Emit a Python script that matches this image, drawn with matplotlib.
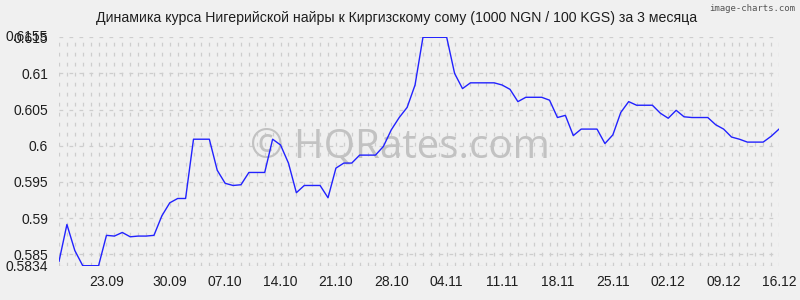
import datetime as dt
import matplotlib
matplotlib.use("Agg")
import matplotlib.pyplot as plt
import matplotlib.transforms as mtransforms

# NGN/KGS rate (1000 NGN / 100 KGS), one value per day from 16.09 to 16.12
start_date = dt.date(2023, 9, 16)
rates = [
    0.5840, 0.5891, 0.5855, 0.5834, 0.5834, 0.5834, 0.5876, 0.5875, 0.5880, 0.5874,
    0.5875, 0.5875, 0.5876, 0.5903, 0.5921, 0.5927, 0.5927, 0.6009, 0.6009, 0.6009,
    0.5966, 0.5948, 0.5945, 0.5946, 0.5963, 0.5963, 0.5963, 0.6009, 0.6001, 0.5976,
    0.5935, 0.5945, 0.5945, 0.5945, 0.5928, 0.5969, 0.5976, 0.5976, 0.5987, 0.5987,
    0.5987, 0.5999, 0.6022, 0.6039, 0.6053, 0.6084, 0.6150, 0.6150, 0.6150, 0.6150,
    0.6100, 0.6079, 0.6087, 0.6087, 0.6087, 0.6087, 0.6084, 0.6078, 0.6061, 0.6067,
    0.6067, 0.6067, 0.6063, 0.6039, 0.6042, 0.6014, 0.6023, 0.6023, 0.6023, 0.6003,
    0.6015, 0.6046, 0.6061, 0.6056, 0.6056, 0.6056, 0.6045, 0.6038, 0.6049, 0.6040,
    0.6039, 0.6039, 0.6039, 0.6029, 0.6023, 0.6012, 0.6009, 0.6005, 0.6005, 0.6005,
    0.6013, 0.6023,
]
dates = [start_date + dt.timedelta(days=i) for i in range(len(rates))]

x_labels = ["23.09", "30.09", "07.10", "14.10", "21.10", "28.10", "04.11",
            "11.11", "18.11", "25.11", "02.12", "09.12", "16.12"]
y_ticks = [0.5834, 0.585, 0.59, 0.595, 0.6, 0.605, 0.61, 0.615]
y_labels = ["0.5834", "0.585", "0.59", "0.595", "0.6", "0.605", "0.61", "0.615"]
y_max_label = "0.6155"

title = "Динамика курса Нигерийской найры к Киргизскому сому (1000 NGN / 100 KGS) за 3 месяца"

plt.rcParams['font.family'] = ['Liberation Sans', 'DejaVu Sans']
bg = "#f0f0f0"
grid_col = "#cdcdcd"
txt_col = "#1e1e1e"

fig = plt.figure(figsize=(8, 3), dpi=100, facecolor=bg)
ax = fig.add_axes([0.07375, 0.1143, 0.9, 0.7614], facecolor=bg)

x = list(range(len(rates)))
ax.plot(x, rates, color="#2222ff", linewidth=1.0, zorder=3)

ax.set_xlim(0, len(rates) - 1)
ax.set_ylim(min(rates), 0.615)

# grid: dashed vertical line every day, dashed horizontal at y ticks
for xi in x:
    ax.axvline(xi, color=grid_col, linewidth=0.9, linestyle=(0, (3, 5)), zorder=1)
for yv in y_ticks:
    ax.axhline(yv, color=grid_col, linewidth=0.9, linestyle=(0, (3, 5)), zorder=1)

# tick positions by date (first label sits a day earlier in the reference)
pos = []
for lab in x_labels:
    d, m = lab.split(".")
    for i, dd in enumerate(dates):
        if dd.day == int(d) and dd.month == int(m):
            pos.append(i)
            break
pos[0] -= 1
ax.set_xticks(pos)
ax.set_xticklabels(x_labels, fontsize=10, color=txt_col)
ax.set_yticks(y_ticks)
ax.set_yticklabels(y_labels, fontsize=10, color=txt_col)
ax.tick_params(axis="both", length=0)
ax.tick_params(axis="x", pad=7)
ax.tick_params(axis="y", pad=8)

# max value label drawn over the 0.615 label, as in the reference
trans = mtransforms.blended_transform_factory(ax.transAxes, ax.transData)
ax.text(-8 / 72 * 100 / 720, 0.615, y_max_label, transform=trans, ha="right",
        va="center", fontsize=10, color=txt_col)

for s in ax.spines.values():
    s.set_visible(False)

fig.text(0.496, 0.94, title, ha="center", va="center", fontsize=10.2, color=txt_col)
fig.text(0.994, 0.972, "image-charts.com", ha="right", va="center", fontsize=6.5,
         color="#555555", family=["DejaVu Sans Mono", "DejaVu Sans"])

ax.text(0.474, 0.52, "© HQRates.com", transform=ax.transAxes, ha="center", va="center",
        fontsize=29, color="#c2c2c2", zorder=2, family=["Open Sans", "DejaVu Sans"])

fig.savefig("out.png", dpi=100, facecolor=bg)
